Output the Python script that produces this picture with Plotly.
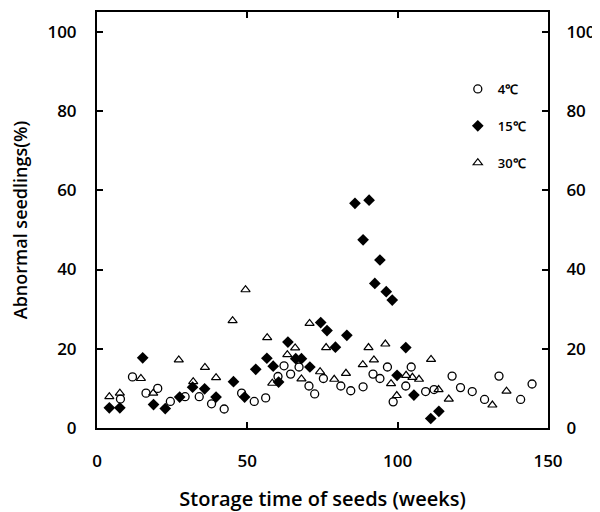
import plotly.graph_objects as go

# 4 °C (open circles)
x_4c = [7.8, 11.8, 16.3, 20.2, 24.4, 29.3, 34.0, 38.1, 42.3, 48.1, 52.3, 56.1, 60.2, 62.2,
        64.4, 67.2, 70.5, 72.4, 75.3, 81.1, 84.4, 88.5, 91.8, 94.1, 96.6, 98.5, 102.7,
        104.5, 109.3, 112.1, 118.1, 120.9, 124.8, 128.9, 133.7, 140.9, 144.7]
y_4c = [7.3, 12.9, 8.8, 10.0, 6.7, 7.9, 7.9, 6.1, 4.8, 8.8, 6.7, 7.6, 13.0, 15.7,
        13.6, 15.4, 10.6, 8.6, 12.5, 10.6, 9.4, 10.4, 13.6, 12.5, 15.4, 6.6, 10.6,
        15.4, 9.2, 9.7, 13.1, 10.2, 9.2, 7.2, 13.1, 7.2, 11.1]

# 15 °C (filled diamonds)
x_15c = [4.1, 7.6, 15.2, 18.8, 22.7, 27.5, 31.8, 35.8, 39.6, 45.4, 49.1, 52.8, 56.5, 58.6,
         60.4, 63.5, 66.1, 68.0, 70.8, 74.4, 76.5, 79.3, 83.1, 85.8, 88.5, 90.5, 92.4,
         94.1, 96.2, 98.2, 99.8, 102.7, 105.4, 111.0, 113.7]
y_15c = [5.1, 5.1, 17.7, 5.9, 4.9, 7.8, 10.3, 9.9, 7.8, 11.7, 7.8, 14.8, 17.6, 15.6,
         11.6, 21.7, 17.5, 17.5, 15.4, 26.6, 24.6, 20.4, 23.4, 56.7, 47.5, 57.5, 36.5,
         42.4, 34.4, 32.3, 13.3, 20.3, 8.3, 2.4, 4.2]

# 30 °C (open triangles)
x_30c = [4.1, 7.6, 14.6, 18.7, 27.2, 32.0, 35.9, 39.6, 45.1, 49.4, 56.6, 58.3, 63.3, 65.9,
         68.0, 70.7, 74.2, 76.2, 78.9, 82.8, 88.4, 90.3, 92.1, 95.9, 97.8, 99.7, 102.8,
         104.9, 107.1, 111.1, 113.6, 117.0, 131.5, 136.2]
y_30c = [7.9, 8.8, 12.5, 8.8, 17.2, 11.7, 15.3, 12.7, 27.1, 34.9, 22.8, 11.3, 18.5, 20.2,
         12.4, 26.4, 14.2, 20.3, 12.3, 13.8, 16.0, 20.3, 17.2, 21.2, 11.2, 8.2, 13.3,
         12.8, 12.3, 17.3, 9.7, 7.3, 5.8, 9.3]

x_ticks = [0, 50, 100, 150]
y_ticks = [0, 20, 40, 60, 80, 100]

FONT = "Open Sans"
W = 600

fig = go.Figure()
fig.add_trace(go.Scatter(
    x=x_4c, y=y_4c, mode="markers", name="4℃", legendgroup="a",
    marker=dict(symbol="circle-open", size=8, color="black", line=dict(width=1.3))))
fig.add_trace(go.Scatter(
    x=x_15c, y=y_15c, mode="markers", name="15℃", legendgroup="b",
    marker=dict(symbol="diamond", size=9, color="black", line=dict(width=0))))
fig.add_trace(go.Scatter(
    x=x_30c, y=y_30c, mode="markers", name="30℃", legendgroup="c",
    marker=dict(symbol="triangle-up-open", size=8, color="black", line=dict(width=1.2))))
# invisible trace to activate right axis
fig.add_trace(go.Scatter(x=[None], y=[None], yaxis="y2", showlegend=False, hoverinfo="skip"))

axis_common = dict(showgrid=False, zeroline=False, showline=True, linecolor="black",
                   linewidth=2, ticks="inside", ticklen=6, tickwidth=2, tickcolor="black",
                   automargin=False,
                   tickfont=dict(family=FONT, size=17, color="black", weight=W))

# page body has an 8px default margin, so the figure is sized/offset to compensate
fig.update_layout(
    width=592, height=504,
    margin=dict(l=89, r=52, t=4, b=84),
    paper_bgcolor="white", plot_bgcolor="white",
    font=dict(family=FONT, color="black"),
    xaxis=dict(range=[0, 150], tickvals=x_ticks, mirror="ticks",
               ticklabelstandoff=17,
               title=dict(text="Storage time of seeds (weeks)",
                          font=dict(family=FONT, size=20, color="black", weight=W), standoff=21),
               **axis_common),
    yaxis=dict(range=[0, 105], tickvals=y_ticks, mirror=True,
               ticklabelstandoff=15,
               title=dict(text="Abnormal seedlings(%)",
                          font=dict(family=FONT, size=18, color="black", weight=W), standoff=15),
               **axis_common),
    yaxis2=dict(range=[0, 105], tickvals=y_ticks, overlaying="y", side="right",
                ticklabelstandoff=13, **axis_common),
    legend=dict(x=0.80, y=0.851, xanchor="left", yanchor="top",
                font=dict(family=FONT, size=13, color="black", weight=W),
                bgcolor="rgba(0,0,0,0)", tracegroupgap=17, itemwidth=30,
                traceorder="grouped"),
    showlegend=True,
)

fig.write_html("out.html")
